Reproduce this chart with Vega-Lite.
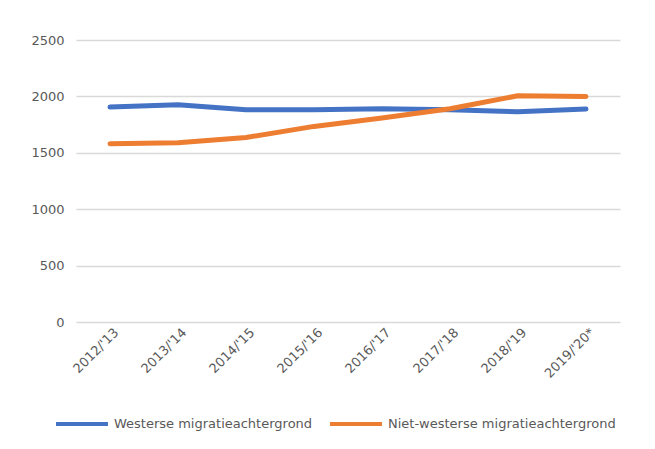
{
  "$schema": "https://vega.github.io/schema/vega-lite/v6.json",
  "autosize": {"type": "none"},
  "width": 544,
  "height": 282,
  "padding": {"left": 76, "top": 40, "right": 35, "bottom": 127},
  "background": "white",
  "config": {
    "view": {"stroke": null},
    "font": "DejaVu Sans",
    "axis": {"labelFont": "DejaVu Sans", "labelFontSize": 13, "labelColor": "#595959"},
    "legend": {"labelFont": "DejaVu Sans", "labelFontSize": 13, "labelColor": "#595959"}
  },
  "data": {
    "values": [
      {"jaar": "2012/'13", "groep": "Westerse migratieachtergrond", "aantal": 1905},
      {"jaar": "2013/'14", "groep": "Westerse migratieachtergrond", "aantal": 1926},
      {"jaar": "2014/'15", "groep": "Westerse migratieachtergrond", "aantal": 1882},
      {"jaar": "2015/'16", "groep": "Westerse migratieachtergrond", "aantal": 1882},
      {"jaar": "2016/'17", "groep": "Westerse migratieachtergrond", "aantal": 1891},
      {"jaar": "2017/'18", "groep": "Westerse migratieachtergrond", "aantal": 1882},
      {"jaar": "2018/'19", "groep": "Westerse migratieachtergrond", "aantal": 1864},
      {"jaar": "2019/'20*", "groep": "Westerse migratieachtergrond", "aantal": 1888},
      {"jaar": "2012/'13", "groep": "Niet-westerse migratieachtergrond", "aantal": 1580},
      {"jaar": "2013/'14", "groep": "Niet-westerse migratieachtergrond", "aantal": 1589},
      {"jaar": "2014/'15", "groep": "Niet-westerse migratieachtergrond", "aantal": 1636},
      {"jaar": "2015/'16", "groep": "Niet-westerse migratieachtergrond", "aantal": 1734},
      {"jaar": "2016/'17", "groep": "Niet-westerse migratieachtergrond", "aantal": 1808},
      {"jaar": "2017/'18", "groep": "Niet-westerse migratieachtergrond", "aantal": 1891},
      {"jaar": "2018/'19", "groep": "Niet-westerse migratieachtergrond", "aantal": 2006},
      {"jaar": "2019/'20*", "groep": "Niet-westerse migratieachtergrond", "aantal": 2000}
    ]
  },
  "mark": {"type": "line", "strokeWidth": 5, "strokeCap": "round", "strokeJoin": "round"},
  "encoding": {
    "x": {
      "field": "jaar", "type": "ordinal", "sort": null,
      "scale": {"type": "point", "padding": 0.5},
      "axis": {"title": null, "labelAngle": -45, "labelAlign": "right", "labelBaseline": "middle", "domain": false, "ticks": false, "grid": false, "labelPadding": 8, "labelOffset": 6}
    },
    "y": {
      "field": "aantal", "type": "quantitative",
      "scale": {"domain": [0, 2500]},
      "axis": {"title": null, "values": [0, 500, 1000, 1500, 2000, 2500], "format": "d", "domain": false, "ticks": false, "gridColor": "#d9d9d9", "gridWidth": 1.3, "labelPadding": 12}
    },
    "color": {
      "field": "groep", "type": "nominal",
      "scale": {"domain": ["Westerse migratieachtergrond", "Niet-westerse migratieachtergrond"], "range": ["#4472C4", "#ED7D31"]},
      "legend": {"title": null, "orient": "none", "direction": "horizontal", "legendX": -22, "legendY": 356, "symbolType": "stroke", "symbolSize": 2704, "symbolStrokeWidth": 4, "labelOffset": 4, "columnPadding": 9, "labelLimit": 0}
    }
  }
}
